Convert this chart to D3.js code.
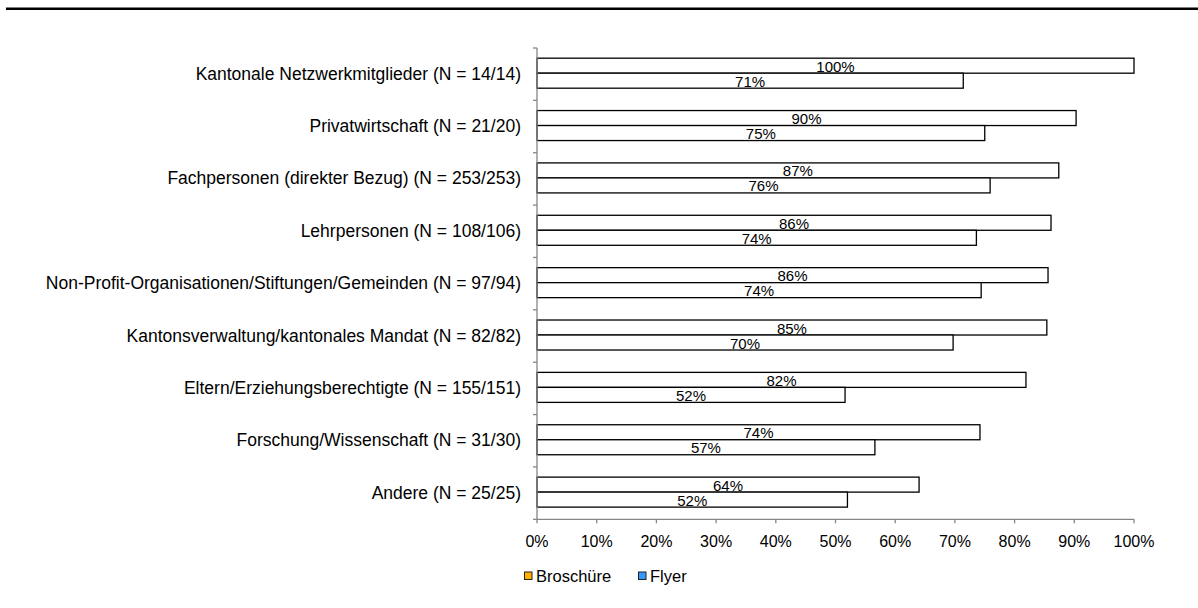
<!DOCTYPE html>
<html>
<head>
<meta charset="utf-8">
<script src="https://cdn.jsdelivr.net/npm/d3@7"></script>
<style>
  body { margin: 0; background: #fff; }
  svg { display: block; font-family: "Liberation Sans", Arial, sans-serif; }
</style>
</head>
<body>
<svg id="chart" width="1198" height="608"></svg>
<script>
// categories (top to bottom)
const categories = [
  "Kantonale Netzwerkmitglieder (N = 14/14)",
  "Privatwirtschaft (N = 21/20)",
  "Fachpersonen (direkter Bezug) (N = 253/253)",
  "Lehrpersonen (N = 108/106)",
  "Non-Profit-Organisationen/Stiftungen/Gemeinden (N = 97/94)",
  "Kantonsverwaltung/kantonales Mandat (N = 82/82)",
  "Eltern/Erziehungsberechtigte (N = 155/151)",
  "Forschung/Wissenschaft (N = 31/30)",
  "Andere (N = 25/25)"
];
const seriesNames = ["Broschüre", "Flyer"];
const seriesColors = ["#FFB000", "#3399FF"];
const broschuere = [1.00, 0.903, 0.874, 0.861, 0.856, 0.854, 0.819, 0.742, 0.640];
const flyer = [0.714, 0.750, 0.759, 0.736, 0.744, 0.697, 0.516, 0.566, 0.520];
const xTicks = [0, 0.1, 0.2, 0.3, 0.4, 0.5, 0.6, 0.7, 0.8, 0.9, 1.0];

const svg = d3.select("#chart");
const plot = { left: 537, right: 1134, top: 48, bottom: 519.3 };

// separator line on top
svg.append("line")
  .attr("x1", 6).attr("x2", 1198)
  .attr("y1", 8.7).attr("y2", 8.7)
  .style("stroke", "#000").style("stroke-width", 2.5);

const x = d3.scaleLinear().domain([0, 1]).range([plot.left, plot.right]);
const y = d3.scaleBand().domain(categories)
  .range([plot.top - 1, plot.bottom - 1])
  .paddingInner(0.427).paddingOuter(0.2135);
const ySub = d3.scaleBand().domain(seriesNames).range([0, y.bandwidth()]);
// category boundaries for the y axis ticks
const yEdge = d3.scaleLinear().domain([0, categories.length]).range([plot.top, plot.bottom]);

const rows = categories.map((c, i) => ({ cat: c, vals: [broschuere[i], flyer[i]] }));
const pct = d3.format(".0%");

// bars
const g = svg.append("g");
rows.forEach(r => {
  r.vals.forEach((v, j) => {
    const s = seriesNames[j];
    g.append("rect")
      .attr("x", x(0))
      .attr("y", y(r.cat) + ySub(s))
      .attr("width", x(v) - x(0))
      .attr("height", ySub.bandwidth())
      .style("fill", "#fff")
      .style("stroke", "#000")
      .style("stroke-width", 1.3);
  });
});
// value labels
rows.forEach(r => {
  r.vals.forEach((v, j) => {
    const s = seriesNames[j];
    g.append("text")
      .attr("x", (x(0) + x(v)) / 2)
      .attr("y", y(r.cat) + ySub(s) + ySub.bandwidth() - 1.5)
      .attr("text-anchor", "middle")
      .style("font-size", "15px")
      .style("fill", "#000")
      .text(pct(v));
  });
});

// y axis
svg.append("line")
  .attr("x1", plot.left).attr("x2", plot.left)
  .attr("y1", plot.top).attr("y2", plot.bottom)
  .style("stroke", "#868686").style("stroke-width", 1.3);
svg.selectAll("line.ytick")
  .data(d3.range(categories.length + 1))
  .enter().append("line")
  .attr("class", "ytick")
  .attr("x1", plot.left - 4).attr("x2", plot.left)
  .attr("y1", d => yEdge(d)).attr("y2", d => yEdge(d))
  .style("stroke", "#868686").style("stroke-width", 1.3);
svg.selectAll("text.cat")
  .data(categories)
  .enter().append("text")
  .attr("class", "cat")
  .attr("x", plot.left - 16)
  .attr("y", d => y(d) + y.bandwidth() / 2 + 6.5)
  .attr("text-anchor", "end")
  .style("font-size", "17.5px")
  .style("fill", "#000")
  .text(d => d);

// x axis
svg.append("line")
  .attr("x1", plot.left).attr("x2", plot.right)
  .attr("y1", plot.bottom).attr("y2", plot.bottom)
  .style("stroke", "#868686").style("stroke-width", 1.3);
svg.selectAll("line.xtick")
  .data(xTicks)
  .enter().append("line")
  .attr("class", "xtick")
  .attr("x1", d => x(d)).attr("x2", d => x(d))
  .attr("y1", plot.bottom).attr("y2", plot.bottom + 4)
  .style("stroke", "#868686").style("stroke-width", 1.3);
svg.selectAll("text.xlab")
  .data(xTicks)
  .enter().append("text")
  .attr("class", "xlab")
  .attr("x", d => x(d))
  .attr("y", 547)
  .attr("text-anchor", "middle")
  .style("font-size", "16px")
  .style("fill", "#000")
  .text(d => pct(d));

// legend
const legendX = [524.5, 638.5];
const lg = svg.selectAll("g.legend")
  .data(seriesNames)
  .enter().append("g")
  .attr("class", "legend")
  .attr("transform", (d, i) => `translate(${legendX[i]},572)`);
lg.append("rect")
  .attr("width", 7.5).attr("height", 7.5)
  .style("fill", (d, i) => seriesColors[i])
  .style("stroke", "#222").style("stroke-width", 1);
lg.append("text")
  .attr("x", 11.5).attr("y", 9.7)
  .style("font-size", "16.5px")
  .style("fill", "#000")
  .text(d => d);
</script>
</body>
</html>
